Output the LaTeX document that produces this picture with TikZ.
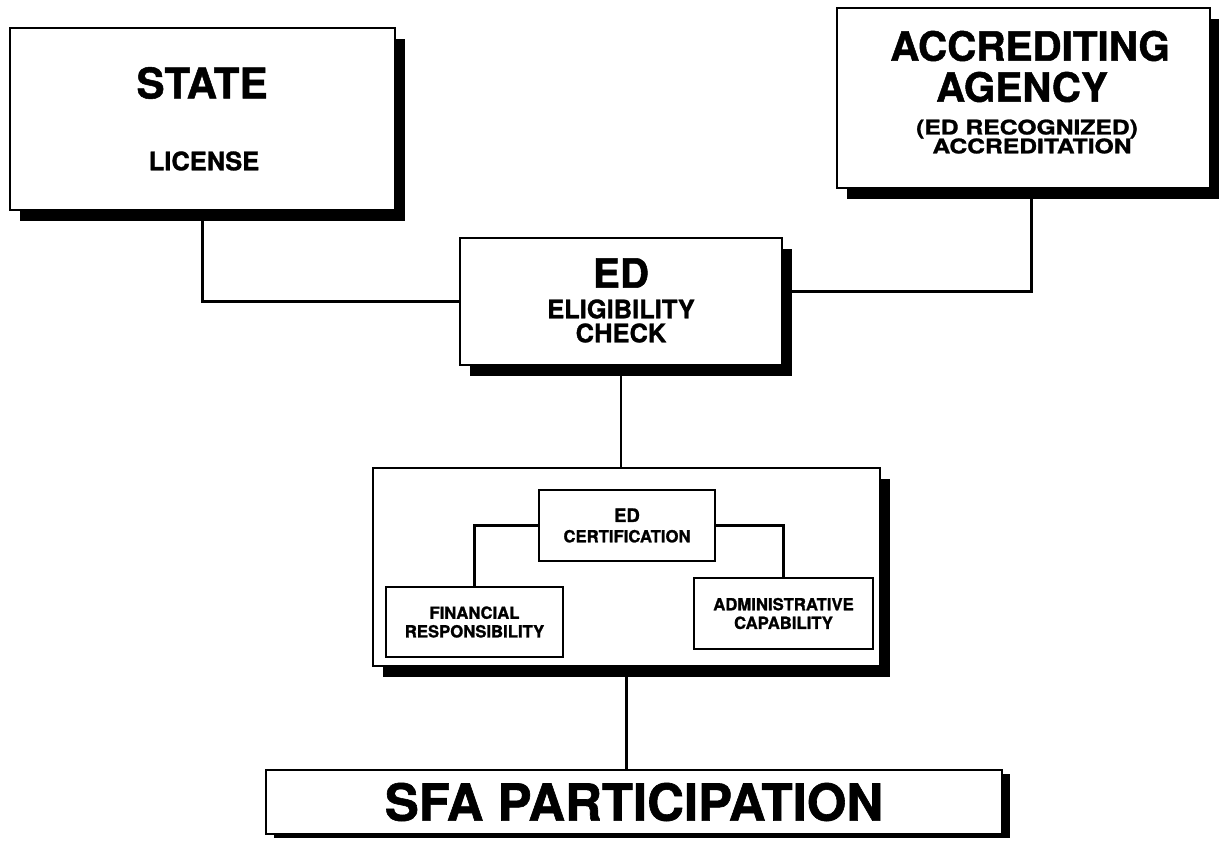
\documentclass[tikz,border=0pt]{standalone}
\usepackage{fontspec}
\setmainfont{TeX Gyre Heros}[BoldFeatures={FakeBold=1.2}]
\usetikzlibrary{shadows}
\newcommand{\widetxt}[1]{\scalebox{1.22}[1]{#1}}

\begin{document}
\begin{tikzpicture}[
    x=0.02cm, y=-0.02cm,
    bigbox/.style={rectangle,draw=black,fill=white,line width=1.4pt,
        drop shadow={fill=black,opacity=1,shadow xshift=0.2cm,shadow yshift=-0.22cm}},
    sfabox/.style={rectangle,draw=black,fill=white,line width=1.2pt,
        drop shadow={fill=black,opacity=1,shadow xshift=0.16cm,shadow yshift=-0.07cm}},
    smallbox/.style={rectangle,draw=black,fill=white,line width=1pt,align=center,
        font=\bfseries\fontsize{9.5}{10.6}\selectfont},
    txt/.style={inner sep=0pt,font=\bfseries\fontsize{#1}{#1}\selectfont},
    link/.style={draw=black,line width=1.2pt}
]
    \useasboundingbox (0,0) rectangle (1219,845);

    % outer boxes
    \node[bigbox,minimum width=7.7cm,minimum height=3.64cm] (state) at (202.5,119) {};
    \node[bigbox,minimum width=7.46cm,minimum height=3.6cm] (accr) at (1023.5,98) {};
    \node[bigbox,minimum width=6.44cm,minimum height=2.54cm] (ed) at (621,301.5) {};
    \node[bigbox,minimum width=10.14cm,minimum height=3.96cm] (cont) at (626.5,567) {};
    \node[sfabox,minimum width=14.72cm,minimum height=1.28cm,font=\bfseries\fontsize{29}{29}\selectfont] (sfa) at (634,802) {SFA PARTICIPATION};

    % labels
    \node[txt=24] (statename) at (202,83) {STATE};
    \node[txt=14.5] (statelic) at (204,161) {LICENSE};
    \node[txt=23] (accrname) at (1030,46) {ACCREDITING};
    \node[txt=23] (accragency) at (1022,87) {AGENCY};
    \node[txt=11.5] (accrrec) at (1027,129) {\widetxt{(ED RECOGNIZED)}};
    \node[txt=11.5] (accrlic) at (1032,146) {\widetxt{ACCREDITATION}};
    \node[txt=23] (edname) at (621,273) {ED};
    \node[txt=14.5] (edelig) at (621,309) {ELIGIBILITY};
    \node[txt=14.5] (edcheck) at (621,333) {CHECK};

    % certification boxes
    \node[smallbox,minimum width=3.52cm,minimum height=1.42cm] (cert) at (627,525.5)
        {{\fontsize{10.5}{12}\selectfont ED}\\[1pt]CERTIFICATION};
    \node[smallbox,minimum width=3.54cm,minimum height=1.4cm] (fin) at (474.5,622)
        {FINANCIAL\\RESPONSIBILITY};
    \node[smallbox,minimum width=3.58cm,minimum height=1.42cm] (admin) at (783.5,613.5)
        {ADMINISTRATIVE\\CAPABILITY};

    % connectors
    \draw[link] (state.south) |- (ed.west);
    \draw[link] ([xshift=0.16cm]accr.south) |- ([yshift=0.2cm]ed.east);
    \draw[link] (ed.south) -- (ed.south |- cont.north);
    \draw[link] (cont.south) -- (cont.south |- sfa.north);
    \draw[link] (cert.west) -| (fin.north);
    \draw[link] (cert.east) -| (admin.north);
\end{tikzpicture}
\end{document}
